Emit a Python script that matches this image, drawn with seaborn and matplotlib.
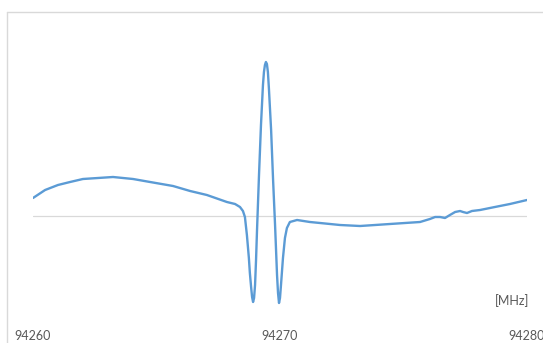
import numpy as np
import pandas as pd
import seaborn as sns
import matplotlib.pyplot as plt
from matplotlib.lines import Line2D

# spectrum (offset from 94260 MHz, arbitrary signal units)
offset_mhz = [0.00, 0.49, 1.01, 1.50, 2.02, 2.63, 3.24, 4.05, 4.74, 5.67,
              6.36, 7.04, 7.85, 8.18, 8.38, 8.50, 8.58, 8.66, 8.74, 8.78,
              8.83, 8.87, 8.91, 8.95, 8.99, 9.03, 9.07, 9.15, 9.23, 9.31,
              9.35, 9.39, 9.43, 9.47, 9.51, 9.55, 9.64, 9.72, 9.80, 9.84,
              9.88, 9.92, 9.96, 10.00, 10.04, 10.12, 10.20, 10.28, 10.40, 10.69,
              11.21, 11.62, 12.43, 13.24, 13.85, 14.45, 15.06, 15.67, 16.07, 16.28,
              16.48, 16.68, 16.88, 17.09, 17.29, 17.41, 17.57, 17.77, 18.10, 18.70,
              19.31, 20.00]
signal = [18, 26, 31, 34, 37, 38, 39, 37, 34, 30,
          25, 21, 14, 12, 9, 5, -1, -19, -42, -57,
          -71, -81, -86, -82, -69, -44, -14, 41, 91, 131,
          144, 151, 154, 152, 144, 128, 86, 36, -9, -34,
          -59, -77, -87, -82, -69, -42, -22, -12, -6, -4,
          -6, -7, -9, -10, -9, -8, -7, -6, -3, -1,
          -1, -2, 1, 4, 5, 4, 3, 5, 6, 9,
          12, 16]
tick_values = [94260, 94270, 94280]
unit_label = "[MHz]"

df = pd.DataFrame({"freq": 94260 + np.array(offset_mhz), "signal": signal})

sns.set_style("white")
plt.rcParams["font.family"] = ["Lato", "DejaVu Sans"]

W, H = 543, 343
fig = plt.figure(figsize=(W / 100, H / 100), dpi=100)
ax = fig.add_axes([33 / W, (H - 315) / H, 494 / W, 285 / H])

ax.axhline(0, color="#d9d9d9", linewidth=0.9, zorder=1)
sns.lineplot(data=df, x="freq", y="signal", ax=ax, color="#5b9bd5",
             linewidth=1.7, estimator=None, sort=False, zorder=2)

ax.set_xlim(94260, 94280)
ax.set_ylim(-99, 186)
ax.set_xticks(tick_values)
ax.set_xticklabels([str(t) for t in tick_values], color="#595959", fontsize=9)
ax.tick_params(axis="x", length=0, pad=11)
ax.set_yticks([])
ax.set_xlabel("")
ax.set_ylabel("")
for s in ax.spines.values():
    s.set_visible(False)
for lab in ax.get_xticklabels():
    lab.set_clip_on(False)

fig.text(512 / W, 1 - 301 / H, unit_label, ha="center", va="center",
         color="#595959", fontsize=9)

# chart border (only top and left edges visible in the crop)
fig.add_artist(Line2D([7 / W, 7 / W], [0, 1 - 12 / H], color="#d9d9d9", linewidth=1))
fig.add_artist(Line2D([7 / W, 1], [1 - 12 / H, 1 - 12 / H], color="#d9d9d9", linewidth=1))

fig.savefig("out.png", dpi=100)
